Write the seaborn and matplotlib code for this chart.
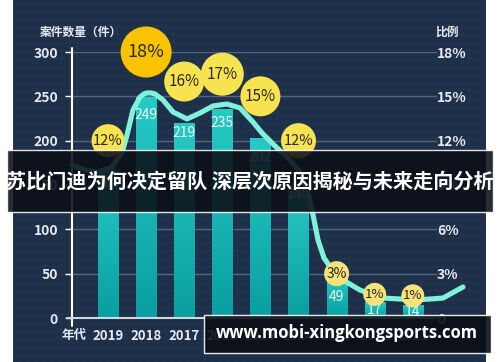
import numpy as np
import pandas as pd
import matplotlib
matplotlib.use("Agg")
import matplotlib.pyplot as plt
import seaborn as sns
from matplotlib.patches import Rectangle
from matplotlib.colors import LinearSegmentedColormap

# ---- data ----
years = ["2019", "2018", "2017", "2016", "2015", "2014", "2013", "2012", "2011"]
cases = [168, 249, 219, 235, 202, 145, 49, 17, 14]
share = [12, 18, 16, 17, 15, 12, 3, 1, 1]

# trend line (x in bar slots, y in %)
line_x = [-0.945, -0.604, -0.262, 0.105, 0.367, 0.499, 0.656, 0.840, 0.945, 1.024,
          1.130, 1.234, 1.444, 1.706, 2.073, 2.415, 2.756, 3.123, 3.465, 3.806,
          4.042, 4.383, 4.724, 5.039, 5.249, 5.381, 5.512, 5.669, 5.906, 6.168,
          6.614, 7.218, 8.110, 8.793, 9.318]
line_pct = [10.35, 10.02, 9.88, 10.22, 11.17, 12.38, 14.08, 14.95, 15.17, 15.23,
            15.23, 15.16, 14.75, 13.94, 13.47, 13.87, 14.35, 14.48, 14.21, 13.26,
            12.52, 11.64, 10.83, 9.88, 8.53, 6.97, 5.28, 4.06, 3.18, 2.57,
            1.89, 1.35, 1.22, 1.35, 2.10]

title = "苏比门迪为何决定留队 深层次原因揭秘与未来走向分析"
watermark = "www.mobi-xingkongsports.com"

# ---- layout / style ----
NAVY = "#1e2f4a"
TXT = "#e6eaf0"
bubble_d = [33, 51, 40, 43, 40, 35, 25, 23, 23]          # px diameters
bubble_nudge = [0, 0, 0, -0.5, 0, 0, 0, 0.6, 0.5]
bubble_fs = [10.5, 13, 11, 11, 11, 10.5, 10, 9.5, 9.5]
bubble_col = ["#f7e34f", "#f9c302", "#f7e34f", "#f7e34f", "#f7e34f", "#f7e34f",
              "#f4e27a", "#f4e27a", "#f4e27a"]
label_off = [14, 18, 9, 13, 18, 5, 22, 7, 6]              # px below bar top

sns.set_theme(style="dark")
plt.rcParams["font.family"] = ["Noto Sans CJK SC", "DejaVu Sans"]

fig = plt.figure(figsize=(5, 3.62), dpi=100, facecolor="white")

# dark panel with faint texture grid
bg = fig.add_axes([13 / 500, 0, 473 / 500, 1])
bg.set_facecolor(NAVY)
bg.set_xlim(0, 473)
bg.set_ylim(0, 362)
bg.set_xticks(np.arange(0, 473, 8))
bg.set_yticks(np.arange(0, 362, 8))
bg.tick_params(length=0, labelbottom=False, labelleft=False)
bg.grid(color="#253955", lw=0.5)
for s in bg.spines.values():
    s.set_visible(False)

ax = fig.add_axes([72 / 500, 44 / 362, 365 / 500, 266 / 362])
ax.set_facecolor("none")

df = pd.DataFrame({"year": years, "cases": cases})
sns.barplot(data=df, x="year", y="cases", ax=ax, width=0.53, color="#17b8b8",
            saturation=1, zorder=2)

cmap = LinearSegmentedColormap.from_list("teal", ["#0a9fa0", "#27c9c5"])
grad = np.linspace(0, 1, 128).reshape(-1, 1)
for p in ax.patches:
    x0, w, h = p.get_x(), p.get_width(), p.get_height()
    ax.imshow(grad, extent=[x0, x0 + w, 0, h], origin="lower", cmap=cmap,
              aspect="auto", zorder=2)
    p.set_facecolor("none")
    p.set_edgecolor("none")

XL, XR = -0.945, 8.635
ax.set_xlim(XL, XR)
ax.set_ylim(0, 300)
ax.set_yticks(range(0, 301, 50))
ax.set_yticklabels([str(v) for v in range(0, 301, 50)], fontweight="bold")
ax.set_xticks(range(len(years)))
ax.set_xticklabels(years, fontweight="bold")
ax.set_xlabel("")
ax.set_ylabel("")
ax.set_axisbelow(True)
ax.grid(axis="y", color="#56667e", lw=1)
ax.grid(axis="x", visible=False)
ax.tick_params(axis="y", length=5, width=1, color="white", direction="out",
               pad=5, labelcolor=TXT, labelsize=10)
ax.tick_params(axis="x", length=0, pad=8, labelcolor=TXT, labelsize=9.5)
for s in ax.spines.values():
    s.set_visible(False)
ax.plot([XL, XL], [-9, 305], color="white", lw=1.5, clip_on=False, zorder=4)
ax.plot([-1.08, XR], [0, 0], color="#d3d7de", lw=1.5, clip_on=False, zorder=4)

for i, (v, off) in enumerate(zip(cases, label_off)):
    ax.annotate(str(v), (i, v), xytext=(0, -off), textcoords="offset pixels",
                ha="center", va="center", color="#eefbfb", fontsize=10, zorder=3)

# right axis: share
ax2 = ax.twinx()
ax2.set_ylim(0, 18)
ax2.set_yticks(range(0, 19, 3))
ax2.set_yticklabels(["0"] + [f"{v}%" for v in range(3, 19, 3)], fontweight="bold")
ax2.tick_params(axis="y", length=0, pad=0, labelcolor=TXT, labelsize=10)
ax2.grid(False)
for s in ax2.spines.values():
    s.set_visible(False)

sns.lineplot(x=line_x, y=line_pct, ax=ax2, color="#7ff2dc", lw=3.7, sort=False,
             zorder=3)
for ln in ax2.lines:
    ln.set_clip_on(False)
    ln.set_solid_capstyle("round")
    ln.set_solid_joinstyle("round")

bx = np.arange(len(share))
by = np.array(share) + np.array(bubble_nudge)
ax2.scatter(bx, by, s=(np.array(bubble_d) * 0.72) ** 2, c=bubble_col,
            zorder=5, clip_on=False, linewidths=0)
for x, y, v, fs in zip(bx, by, share, bubble_fs):
    ax2.text(x, y, f"{v}%", ha="center", va="center", fontsize=fs,
             color="#2a281f", fontweight="medium", zorder=6)

# axis titles
fig.text(40 / 500, 1 - 32 / 362, "案件数量（件）", fontsize=8.5, fontweight="bold",
         color=TXT, va="center", ha="left")
fig.text(435 / 500, 1 - 32 / 362, "比例", fontsize=8.5, fontweight="bold",
         color=TXT, va="center", ha="left")
fig.text(74 / 500, 1 - 335 / 362, "年代", fontsize=9, fontweight="bold",
         color=TXT, va="center", ha="center")

# overlays
fig.add_artist(Rectangle((7 / 500, 150 / 362), 486 / 500, 62 / 362,
                         transform=fig.transFigure, facecolor="#0b0f16",
                         alpha=0.88, zorder=10))
fig.text(0.5, 0.5, title, fontsize=14.5, fontweight="bold", color="white",
         ha="center", va="center", zorder=11)
fig.add_artist(Rectangle((204 / 500, 9 / 362), 287 / 500, 38 / 362,
                         transform=fig.transFigure, facecolor="#0b0f16",
                         alpha=0.9, zorder=10))
fig.text(347 / 500, 1 - 333 / 362, watermark, fontsize=12, fontweight="bold",
         color="white", ha="center", va="center", zorder=11, family="Open Sans")

fig.savefig("out.png", dpi=100)
